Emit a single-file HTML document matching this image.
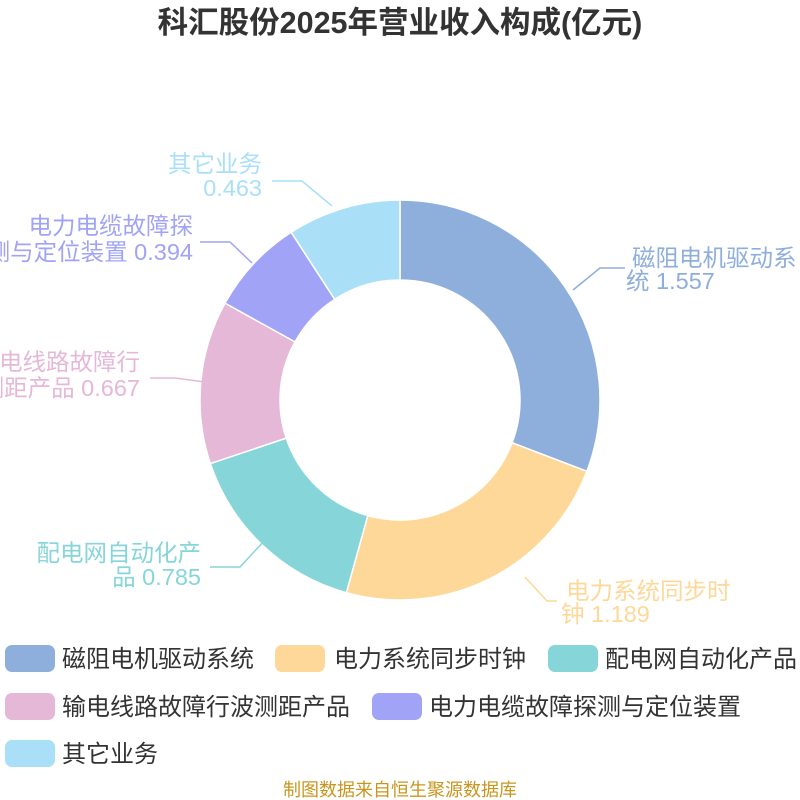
<!DOCTYPE html>
<html><head><meta charset="utf-8"><style>
html,body{margin:0;padding:0;background:#fff;}
svg{display:block;font-family:"Liberation Sans","Noto Sans CJK SC",sans-serif;}
</style></head><body>
<svg id="s" width="800" height="800" viewBox="0 0 800 800">
<text x="400" y="33" text-anchor="middle" font-size="30.5" font-weight="bold" fill="#333">科汇股份2025年营业收入构成(亿元)</text>
<g id="pie"></g>
<g font-size="23.5">
<polyline points="573,290 600,268 625,268" fill="none" stroke="#8eaedc" stroke-width="1.5"/>
<text x="632" y="266" fill="#8eaedc">磁阻电机驱动系</text>
<text x="626" y="289" fill="#8eaedc">统 1.557</text>
<polyline points="525,577 547,601 557,601" fill="none" stroke="#fed898" stroke-width="1.5"/>
<text x="566" y="599" fill="#fed898">电力系统同步时</text>
<text x="561" y="622" fill="#fed898">钟 1.189</text>
<polyline points="265,540 240,567 210,567" fill="none" stroke="#86d5d9" stroke-width="1.5"/>
<text x="201" y="561" text-anchor="end" fill="#86d5d9">配电网自动化产</text>
<text x="201" y="585" text-anchor="end" fill="#86d5d9">品 0.785</text>
<polyline points="205,382 175,378 150,378" fill="none" stroke="#e6b8d7" stroke-width="1.5"/>
<text x="140" y="370" text-anchor="end" fill="#e6b8d7">输电线路故障行</text>
<text x="140" y="396" text-anchor="end" fill="#e6b8d7">波测距产品 0.667</text>
<polyline points="252,263 230,242 200,242" fill="none" stroke="#a1a3f6" stroke-width="1.5"/>
<text x="193" y="234" text-anchor="end" fill="#a1a3f6">电力电缆故障探</text>
<text x="193" y="260" text-anchor="end" fill="#a1a3f6">测与定位装置 0.394</text>
<polyline points="332,206 302,181 272,181" fill="none" stroke="#a9e0f8" stroke-width="1.5"/>
<text x="262" y="172" text-anchor="end" fill="#a9e0f8">其它业务</text>
<text x="262" y="196" text-anchor="end" fill="#a9e0f8">0.463</text>
</g>
<g font-size="24" fill="#333">
<rect x="5" y="645" width="50" height="27" rx="7" fill="#8eaedc"/><text x="62" y="667">磁阻电机驱动系统</text>
<rect x="275" y="645" width="50" height="27" rx="7" fill="#fed898"/><text x="334" y="667">电力系统同步时钟</text>
<rect x="548" y="645" width="50" height="27" rx="7" fill="#86d5d9"/><text x="605" y="667">配电网自动化产品</text>
<rect x="5" y="693" width="50" height="27" rx="7" fill="#e6b8d7"/><text x="62" y="715">输电线路故障行波测距产品</text>
<rect x="372" y="693" width="50" height="27" rx="7" fill="#a1a3f6"/><text x="429" y="715">电力电缆故障探测与定位装置</text>
<rect x="5" y="740" width="50" height="27" rx="7" fill="#a9e0f8"/><text x="62" y="762">其它业务</text>
</g>
<text x="400" y="796" text-anchor="middle" font-size="18" fill="#c8961e">制图数据来自恒生聚源数据库</text>
</svg>
<script>
var v=[1.557,1.189,0.785,0.667,0.394,0.463],c=["#8eaedc","#fed898","#86d5d9","#e6b8d7","#a1a3f6","#a9e0f8"];
var t=v.reduce((a,b)=>a+b),a=0,cx=400,cy=400,R=200,r=120,h="";
function p(rr,an){return [cx+rr*Math.sin(an),cy-rr*Math.cos(an)];}
v.forEach(function(x,i){var b=a+x/t*2*Math.PI,l=(b-a)>Math.PI?1:0;
var p1=p(R,a),p2=p(R,b),p3=p(r,b),p4=p(r,a);
h+='<path d="M'+p1+' A'+R+','+R+' 0 '+l+' 1 '+p2+' L'+p3+' A'+r+','+r+' 0 '+l+' 0 '+p4+' Z" fill="'+c[i]+'" stroke="#fff" stroke-width="1.5"/>';a=b;});
document.getElementById("pie").innerHTML=h;
</script>
</body></html>
